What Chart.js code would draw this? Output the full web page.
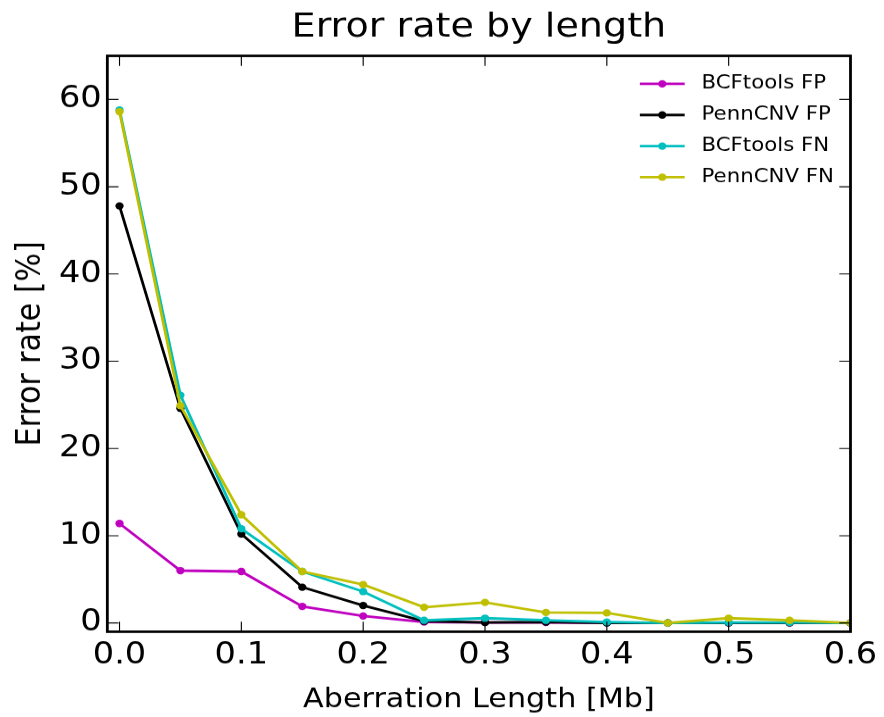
<!DOCTYPE html>
<html>
<head>
<meta charset="utf-8">
<script src="https://cdn.jsdelivr.net/npm/chart.js@4"></script>
<style>
  body { margin: 0; background: #fff; }
  #chart { display: block; }
</style>
</head>
<body>
<canvas id="chart" width="789" height="717" style="width:884px;height:717px"></canvas>
<script>
// aberration length in Mb
const xValues = [0, 0.05, 0.1, 0.15, 0.2, 0.25, 0.3, 0.35, 0.4, 0.45, 0.5, 0.55, 0.6];
// error rates in %
const bcftoolsFP = [11.4, 6.0, 5.9, 1.9, 0.8, 0.1, 0.05, 0.05, 0.0, 0.0, 0.0, 0.0, 0.0];
const pennFP = [47.8, 24.6, 10.2, 4.1, 2.0, 0.2, 0.05, 0.1, 0.0, 0.0, 0.0, 0.0, 0.0];
const bcftoolsFN = [58.8, 26.1, 10.8, 5.9, 3.6, 0.3, 0.55, 0.3, 0.1, 0.0, 0.05, 0.05, 0.0];
const pennFN = [58.6, 24.9, 12.4, 5.9, 4.4, 1.8, 2.35, 1.2, 1.15, 0.0, 0.55, 0.3, 0.0];

const seriesLabels = ['BCFtools FP', 'PennCNV FP', 'BCFtools FN', 'PennCNV FN'];
const seriesColors = ['#bf00bf', '#000000', '#00bfbf', '#bfbf00'];
const seriesData = [bcftoolsFP, pennFP, bcftoolsFN, pennFN];

const FONT = '"DejaVu Sans", sans-serif';
Chart.defaults.color = '#000';
Chart.defaults.font.family = FONT;

// matplotlib-like box with inward ticks on all four sides
const framePlugin = {
  id: 'frame',
  afterDraw(chart) {
    const { ctx, chartArea: a } = chart;
    const xs = chart.scales.x, ys = chart.scales.y;
    ctx.save();
    ctx.strokeStyle = '#000';
    ctx.lineWidth = 1;
    ctx.beginPath();
    xs.ticks.forEach(t => {
      const px = xs.getPixelForValue(t.value);
      ctx.moveTo(px, a.bottom); ctx.lineTo(px, a.bottom - 10);
      ctx.moveTo(px, a.top); ctx.lineTo(px, a.top + 10);
    });
    ys.ticks.forEach(t => {
      const py = ys.getPixelForValue(t.value);
      ctx.moveTo(a.left, py); ctx.lineTo(a.left + 10, py);
      ctx.moveTo(a.right, py); ctx.lineTo(a.right - 10, py);
    });
    ctx.stroke();
    ctx.lineWidth = 2.5;
    ctx.strokeRect(a.left, a.top, a.right - a.left, a.bottom - a.top);
    ctx.restore();
  }
};

const legendPlugin = {
  id: 'innerLegend',
  afterDraw(chart) {
    const { ctx, chartArea: a } = chart;
    ctx.save();
    ctx.font = '19px ' + FONT;
    ctx.textBaseline = 'middle';
    ctx.textAlign = 'left';
    chart.data.datasets.forEach((ds, i) => {
      const y = a.top + 28 + i * 31.1;
      const x0 = a.right - 188;
      ctx.strokeStyle = ds.borderColor;
      ctx.lineWidth = 2.5;
      ctx.beginPath();
      ctx.moveTo(x0, y); ctx.lineTo(x0 + 40, y);
      ctx.stroke();
      ctx.fillStyle = ds.borderColor;
      ctx.beginPath();
      ctx.arc(x0 + 20, y, 3.7, 0, Math.PI * 2);
      ctx.fill();
      ctx.fillStyle = '#000';
      ctx.fillText(ds.label, a.right - 133, y);
    });
    ctx.restore();
  }
};

const datasets = seriesData.map((vals, i) => ({
  label: seriesLabels[i],
  data: xValues.map((x, j) => ({ x: x, y: vals[j] })),
  borderColor: seriesColors[i],
  backgroundColor: seriesColors[i],
  borderWidth: 2.5,
  pointRadius: 3.7,
  pointBorderWidth: 0,
  pointBackgroundColor: seriesColors[i],
  tension: 0,
  order: seriesData.length - i
}));

new Chart(document.getElementById('chart'), {
  type: 'line',
  data: { datasets },
  options: {
    responsive: false,
    animation: false,
    devicePixelRatio: 1.1204,
    layout: { padding: { left: 0, right: 29.9, top: 0, bottom: 0 } },
    plugins: {
      legend: { display: false },
      tooltip: { enabled: false },
      title: {
        display: true,
        text: 'Error rate by length',
        fullSize: false,
        font: { size: 34, weight: 'normal' },
        padding: { top: 7, bottom: 8 },
        color: '#000'
      }
    },
    scales: {
      x: {
        type: 'linear',
        min: -0.01,
        max: 0.6,
        grid: { display: false, drawTicks: false },
        border: { display: false },
        ticks: {
          stepSize: 0.1,
          includeBounds: false,
          padding: 6,
          font: { size: 30 },
          callback: v => v.toFixed(1)
        },
        title: {
          display: true,
          text: 'Aberration Length [Mb]',
          font: { size: 27 },
          padding: { top: 0, bottom: 1 }
        },
        afterFit: s => { s.height = 85.6; }
      },
      y: {
        min: -1,
        max: 65,
        grid: { display: false, drawTicks: false },
        border: { display: false },
        ticks: {
          stepSize: 10,
          includeBounds: false,
          padding: 5,
          font: { size: 30 }
        },
        title: {
          display: true,
          text: 'Error rate [%]',
          font: { size: 30 },
          padding: { top: 10, bottom: 0 }
        },
        afterFit: s => { s.width = 95.8; }
      }
    }
  },
  plugins: [framePlugin, legendPlugin]
});
</script>
</body>
</html>
